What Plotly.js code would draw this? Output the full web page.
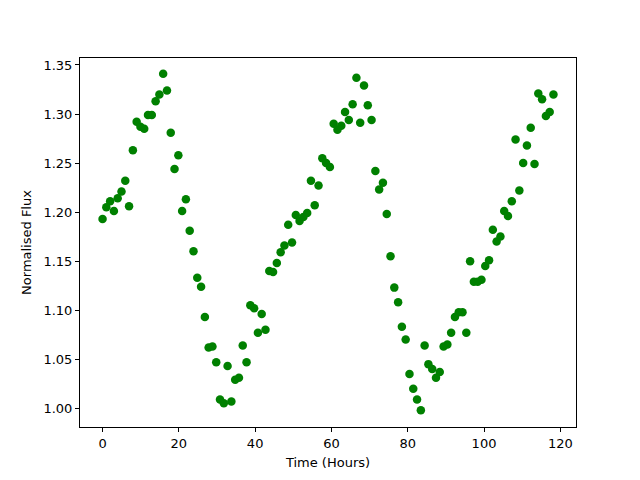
<!DOCTYPE html>
<html>
<head>
<meta charset="utf-8">
<script src="https://cdn.plot.ly/plotly-3.0.1.min.js"></script>
<style>html,body{margin:0;padding:0;background:#fff;}#chart{width:640px;height:480px;}</style>
</head>
<body>
<div id="chart"></div>
<script>
const timeHours = [
  0,0.99,1.99,2.98,3.97,4.97,5.96,6.95,7.95,8.94,
  9.93,10.93,11.92,12.91,13.91,14.90,15.89,16.89,17.88,18.87,
  19.87,20.86,21.85,22.85,23.84,24.83,25.83,26.82,27.81,28.81,
  29.80,30.79,31.79,32.78,33.77,34.77,35.76,36.75,37.75,38.74,
  39.73,40.73,41.72,42.71,43.71,44.70,45.69,46.69,47.68,48.67,
  49.67,50.66,51.65,52.64,53.64,54.63,55.62,56.62,57.61,58.60,
  59.60,60.59,61.58,62.58,63.57,64.56,65.56,66.55,67.54,68.54,
  69.53,70.52,71.52,72.51,73.50,74.50,75.49,76.48,77.48,78.47,
  79.46,80.46,81.45,82.44,83.44,84.43,85.42,86.42,87.41,88.40,
  89.40,90.39,91.38,92.38,93.37,94.36,95.36,96.35,97.34,98.34,
  99.33,100.32,101.32,102.31,103.30,104.30,105.29,106.28,107.28,108.27,
  109.26,110.26,111.25,112.24,113.24,114.23,115.22,116.22,117.21,118.20
];
const normalisedFlux = [
  1.193,1.205,1.211,1.201,1.214,1.221,1.232,1.206,1.263,1.292,
  1.287,1.285,1.299,1.299,1.313,1.320,1.341,1.324,1.281,1.244,
  1.258,1.201,1.213,1.181,1.160,1.133,1.124,1.093,1.062,1.063,
  1.047,1.009,1.005,1.043,1.007,1.029,1.031,1.064,1.047,1.105,
  1.102,1.077,1.096,1.080,1.140,1.139,1.148,1.159,1.166,1.187,
  1.169,1.197,1.191,1.195,1.199,1.232,1.207,1.227,1.255,1.250,
  1.246,1.290,1.284,1.288,1.302,1.294,1.310,1.337,1.291,1.329,
  1.309,1.294,1.242,1.223,1.230,1.198,1.155,1.123,1.108,1.083,
  1.070,1.035,1.020,1.009,0.998,1.064,1.045,1.040,1.031,1.037,
  1.063,1.065,1.077,1.093,1.098,1.098,1.077,1.150,1.129,1.129,
  1.131,1.145,1.151,1.182,1.170,1.175,1.201,1.196,1.211,1.274,
  1.222,1.250,1.268,1.286,1.249,1.321,1.315,1.298,1.302,1.320
];
const xTicks = [0,20,40,60,80,100,120];
const yTicks = [1.00,1.05,1.10,1.15,1.20,1.25,1.30,1.35];

const font = {family: 'DejaVu Sans, sans-serif', size: 13, color: '#000'};

Plotly.newPlot('chart', [{
  x: timeHours,
  y: normalisedFlux,
  type: 'scatter',
  mode: 'markers',
  marker: {color: '#008000', size: 8.5},
  hoverinfo: 'none'
}], {
  width: 640, height: 480,
  margin: {l: 80, r: 64, t: 58, b: 53, pad: 0},
  paper_bgcolor: '#fff', plot_bgcolor: '#fff',
  font: font,
  showlegend: false,
  xaxis: {
    range: [-5.91, 124.11],
    tickvals: xTicks,
    ticktext: xTicks.map(String),
    ticks: 'outside', ticklen: 4, tickwidth: 1, tickcolor: '#000',
    showline: true, linecolor: '#000', linewidth: 1, mirror: true,
    showgrid: false, zeroline: false,
    tickfont: font,
    title: {text: 'Time (Hours)', font: font, standoff: 8}
  },
  yaxis: {
    range: [0.9809, 1.3571],
    tickvals: yTicks,
    ticktext: yTicks.map(v => v.toFixed(2)),
    ticks: 'outside', ticklen: 4, tickwidth: 1, tickcolor: '#000',
    showline: true, linecolor: '#000', linewidth: 1, mirror: true,
    showgrid: false, zeroline: false,
    tickfont: font,
    title: {text: 'Normalised Flux', font: font, standoff: 8}
  }
}, {staticPlot: true, displayModeBar: false});
</script>
</body>
</html>
